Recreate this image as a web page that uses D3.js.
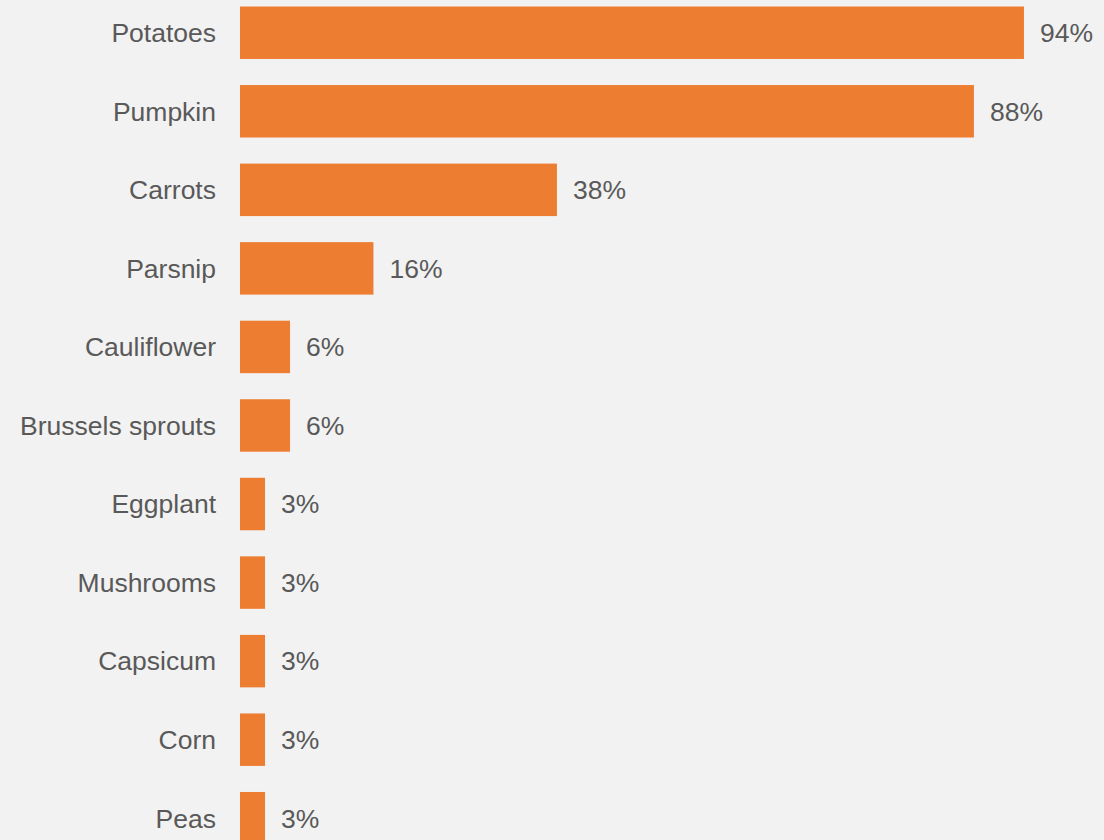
<!DOCTYPE html>
<html>
<head>
<meta charset="utf-8">
<script src="https://cdn.jsdelivr.net/npm/d3@7"></script>
<style>
  html, body { margin: 0; padding: 0; background: #f2f2f2; }
  svg { display: block; }
</style>
</head>
<body>
<svg id="chart" width="1104" height="840"></svg>
<script>
// Favourite vegetables, share of respondents (%)
const categories = ["Potatoes", "Pumpkin", "Carrots", "Parsnip", "Cauliflower", "Brussels sprouts",
                    "Eggplant", "Mushrooms", "Capsicum", "Corn", "Peas"];
const values = [94, 88, 38, 16, 6, 6, 3, 3, 3, 3, 3];
const valueLabels = values.map(v => v + "%");

const width = 1104, height = 840;
const svg = d3.select("#chart");

svg.append("rect").attr("width", width).attr("height", height).attr("fill", "#f2f2f2");

const x = d3.scaleLinear().domain([0, 100]).range([240, 1074]);
const y = d3.scaleBand().domain(categories).range([-6.54, 857.5])
  .paddingInner(0.332).paddingOuter(0.166);

const data = categories.map((c, i) => ({ cat: c, val: values[i], label: valueLabels[i] }));

const fontFamily = "Arial, 'Liberation Sans', sans-serif";
const textColor = "#595959";
const fontSize = "26.5px";

svg.append("g").selectAll("rect").data(data).join("rect")
  .attr("x", x(0))
  .attr("y", d => y(d.cat))
  .attr("width", d => x(d.val) - x(0))
  .attr("height", y.bandwidth())
  .attr("fill", "#ed7d31");

// Category labels to the left of the bars
svg.append("g").selectAll("text").data(data).join("text")
  .attr("x", x(0) - 24)
  .attr("y", d => y(d.cat) + y.bandwidth() / 2)
  .attr("dy", "0.35em")
  .attr("text-anchor", "end")
  .attr("font-family", fontFamily)
  .attr("font-size", fontSize)
  .attr("fill", textColor)
  .text(d => d.cat);

// Value labels at the end of each bar
svg.append("g").selectAll("text").data(data).join("text")
  .attr("x", d => x(d.val) + 16)
  .attr("y", d => y(d.cat) + y.bandwidth() / 2)
  .attr("dy", "0.35em")
  .attr("font-family", fontFamily)
  .attr("font-size", fontSize)
  .attr("fill", textColor)
  .text(d => d.label);
</script>
</body>
</html>
